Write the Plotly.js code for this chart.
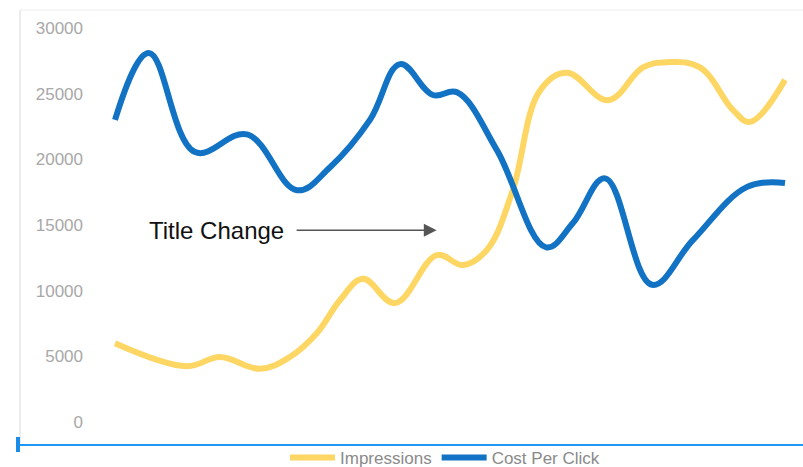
<!DOCTYPE html>
<html>
<head>
<meta charset="utf-8">
<script src="https://cdn.plot.ly/plotly-3.0.1.min.js"></script>
<style>
  html, body { margin: 0; padding: 0; background: #fff; }
  #chart { width: 803px; height: 467px; }
</style>
</head>
<body>
<div id="chart"></div>
<script>
// Impressions (yellow) — position along the period, value
const impressionsT = [0, 2.15, 3.13, 4.33, 5.22, 6.03, 6.72, 7.4, 8.36, 9.61, 10.39, 11.1, 11.85, 12.69, 13.49, 14.72, 15.76, 16.48, 17.46, 18.45, 18.96, 20];
const impressions = [6000, 4250, 4950, 4050, 4950, 6780, 9290, 10900, 9050, 12700, 11950, 13100, 17450, 25250, 26600, 24500, 27000, 27400, 27000, 23750, 22850, 26050];

// Cost Per Click (blue)
const cpcT = [0, 1.01, 2.39, 3.94, 5.43, 6.42, 7.61, 8.51, 9.49, 10.21, 11.4, 12.87, 13.67, 14.63, 16.03, 17.25, 18.87, 20];
const costPerClick = [23000, 28100, 20550, 21900, 17650, 19400, 23000, 27250, 24900, 25100, 20700, 13300, 15150, 18550, 10450, 13850, 17900, 18200];

const yTicks = [0, 5000, 10000, 15000, 20000, 25000, 30000];
const annotationText = "Title Change";
const annotationPoint = {t: 9.6, v: 14600};

const FONT = "Liberation Sans, Arial, sans-serif";
const YELLOW = "#FDD663";
const BLUE = "#1272C4";

const traces = [
  {
    type: "scatter", mode: "lines", name: "Impressions",
    x: impressionsT, y: impressions,
    line: {color: YELLOW, width: 6, shape: "spline", smoothing: 1.1}
  },
  {
    type: "scatter", mode: "lines", name: "Cost Per Click",
    x: cpcT, y: costPerClick,
    line: {color: BLUE, width: 6, shape: "spline", smoothing: 1.1}
  }
];

// helpers converting pixel placement to paper coords for decorations
const L = 100, W = 700, B = 422, H = 394;
const px = v => (v - L) / W;
const py = v => (B - v) / H;

const layout = {
  width: 803, height: 467,
  margin: {l: L, r: 803 - L - W, t: 28, b: 467 - B, autoexpand: false},
  paper_bgcolor: "#ffffff",
  plot_bgcolor: "#ffffff",
  showlegend: true,
  legend: {
    orientation: "h", x: px(445), xanchor: "center", y: py(458), yanchor: "middle",
    font: {family: FONT, size: 17, color: "#8a8a8a"},
    itemwidth: 45, bgcolor: "rgba(0,0,0,0)"
  },
  xaxis: {
    range: [-0.448, 20.448], showgrid: false, zeroline: false,
    showticklabels: false, ticks: "", showline: false, fixedrange: true
  },
  yaxis: {
    range: [0, 30000], tickvals: yTicks, ticktext: yTicks.map(String),
    showgrid: false, zeroline: false, showline: false, ticks: "",
    ticklabelstandoff: 16,
    tickfont: {family: FONT, size: 17, color: "#a8a8a8"}, fixedrange: true
  },
  annotations: [
    {
      x: annotationPoint.t, y: annotationPoint.v, xref: "x", yref: "y",
      text: annotationText, showarrow: true,
      ax: -220, ay: 0, axref: "pixel", ayref: "pixel",
      arrowhead: 2, arrowsize: 1.6, arrowwidth: 1.6, arrowcolor: "#555555",
      startstandoff: 11,
      font: {family: FONT, size: 24, color: "#111111"}
    }
  ],
  shapes: [
    // card border (top and left)
    {type: "line", xref: "paper", yref: "paper", x0: px(20), x1: px(803), y0: py(10), y1: py(10), line: {color: "#eeeeee", width: 1}},
    {type: "line", xref: "paper", yref: "paper", x0: px(20), x1: px(20), y0: py(10), y1: py(445), line: {color: "#e6e6e6", width: 1.5}},
    // blue baseline
    {type: "line", xref: "paper", yref: "paper", x0: px(20), x1: px(803), y0: py(445), y1: py(445), line: {color: "#2196F3", width: 2}},
    {type: "rect", xref: "paper", yref: "paper", x0: px(16), x1: px(20), y0: py(452), y1: py(437), line: {width: 0}, fillcolor: "#1a8ce8"}
  ]
};

Plotly.newPlot("chart", traces, layout, {displayModeBar: false, staticPlot: true});
</script>
</body>
</html>
